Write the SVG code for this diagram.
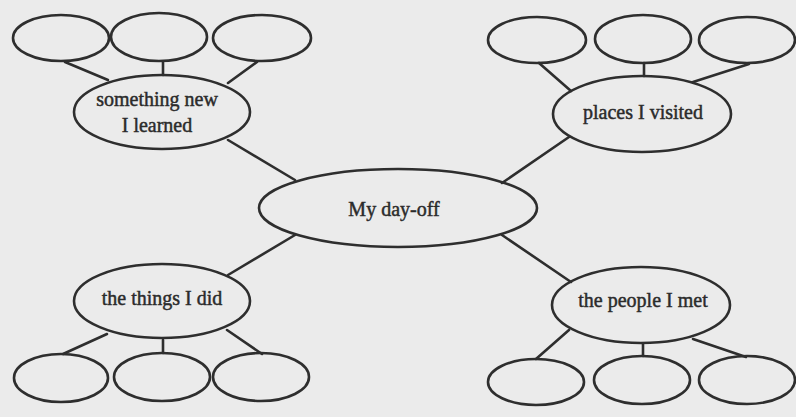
<svg xmlns="http://www.w3.org/2000/svg" width="796" height="417" viewBox="0 0 796 417">
<style>
.n ellipse{fill:none;stroke:#2e2e2e;stroke-width:2.6}
.c line{stroke:#2e2e2e;stroke-width:2.6;stroke-linecap:round}
text{font-family:"Liberation Serif","Times New Roman",serif;font-size:20px;fill:#2b2b2b;stroke:#2b2b2b;stroke-width:0.45;text-anchor:middle}
</style>
<rect width="796" height="417" fill="#ebebeb"/>
<g id="connectors" class="c">
<line x1="65" y1="62" x2="108" y2="80"/>
<line x1="163" y1="62" x2="163" y2="75"/>
<line x1="257" y1="62" x2="228" y2="83"/>
<line x1="228" y1="140" x2="295" y2="180"/>
<line x1="539" y1="63" x2="571" y2="91"/>
<line x1="644" y1="63" x2="644" y2="76"/>
<line x1="749" y1="64" x2="693" y2="82"/>
<line x1="569" y1="137" x2="502" y2="183"/>
<line x1="295" y1="235" x2="228" y2="275"/>
<line x1="107" y1="334" x2="63" y2="354"/>
<line x1="163" y1="340" x2="163" y2="353"/>
<line x1="227" y1="330" x2="262" y2="354"/>
<line x1="502" y1="235" x2="571" y2="282"/>
<line x1="569" y1="330" x2="536" y2="359"/>
<line x1="643" y1="344" x2="643" y2="356"/>
<line x1="693" y1="339" x2="746" y2="357"/>
</g>
<g id="center" class="n"><ellipse cx="398" cy="208" rx="139" ry="39"/><text x="394" y="216">My day-off</text></g>
<g id="learned" class="n"><ellipse cx="162" cy="112" rx="88" ry="37"/><text x="157" y="106">something new</text><text x="157" y="132">I learned</text></g>
<g id="places" class="n"><ellipse cx="642" cy="114" rx="89" ry="38"/><text x="643" y="119">places I visited</text></g>
<g id="things" class="n"><ellipse cx="162" cy="301" rx="88" ry="37"/><text x="162" y="305">the things I did</text></g>
<g id="people" class="n"><ellipse cx="641" cy="305" rx="89" ry="38"/><text x="643" y="307">the people I met</text></g>
<g id="learned-1" class="n"><ellipse cx="61" cy="38" rx="48" ry="23"/></g>
<g id="learned-2" class="n"><ellipse cx="159" cy="37" rx="48" ry="24"/></g>
<g id="learned-3" class="n"><ellipse cx="262" cy="38" rx="49" ry="23"/></g>
<g id="places-1" class="n"><ellipse cx="537" cy="40" rx="49" ry="23"/></g>
<g id="places-2" class="n"><ellipse cx="643" cy="39" rx="48" ry="24"/></g>
<g id="places-3" class="n"><ellipse cx="747" cy="40" rx="48" ry="23"/></g>
<g id="things-1" class="n"><ellipse cx="61" cy="378" rx="47" ry="24"/></g>
<g id="things-2" class="n"><ellipse cx="162" cy="377" rx="48" ry="24"/></g>
<g id="things-3" class="n"><ellipse cx="261" cy="377" rx="48" ry="24"/></g>
<g id="people-1" class="n"><ellipse cx="536" cy="382" rx="48" ry="23"/></g>
<g id="people-2" class="n"><ellipse cx="642" cy="380" rx="48" ry="24"/></g>
<g id="people-3" class="n"><ellipse cx="747" cy="380" rx="48" ry="24"/></g>
</svg>
